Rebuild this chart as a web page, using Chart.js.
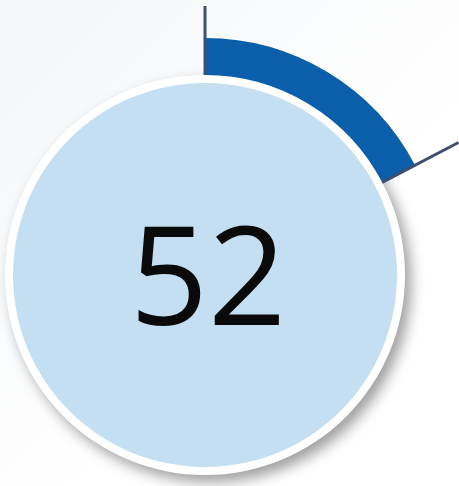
<!DOCTYPE html>
<html>
<head>
<meta charset="utf-8">
<script src="https://cdn.jsdelivr.net/npm/chart.js@4"></script>
<style>
  html, body { margin: 0; padding: 0; width: 459px; height: 486px; overflow: hidden; }
  body { position: relative; background: linear-gradient(135deg, #f3f5f8 0%, #fafbfc 35%, #ffffff 60%, #ffffff 100%); }
  #c { position: absolute; left: -75px; top: -5px; }
</style>
</head>
<body>
<canvas id="c" width="560" height="560"></canvas>
<script>
// Data
const categories = ['Value', 'Remaining'];
const values = [52, 248];          // 52 out of a total of 300
const centerLabel = ['52'];

const discPlugin = {
  id: 'disc',
  beforeDatasetsDraw(chart) {
    const arc = chart.getDatasetMeta(0).data[0];
    const { x, y, innerRadius } = arc.getProps(['x', 'y', 'innerRadius'], true);
    const ctx = chart.ctx;
    ctx.save();
    ctx.shadowColor = 'rgba(0,0,0,0.38)';
    ctx.shadowBlur = 14;
    ctx.shadowOffsetX = 6;
    ctx.shadowOffsetY = 7;
    ctx.fillStyle = '#ffffff';
    ctx.beginPath();
    ctx.arc(x, y, innerRadius, 0, Math.PI * 2);
    ctx.fill();
    ctx.restore();
    ctx.save();
    ctx.fillStyle = '#c3dff1';
    ctx.beginPath();
    ctx.arc(x, y, innerRadius - 8, 0, Math.PI * 2);
    ctx.fill();
    ctx.restore();
  },
  afterDatasetsDraw(chart) {
    const arc = chart.getDatasetMeta(0).data[0];
    const { x, y, innerRadius, startAngle, endAngle } =
      arc.getProps(['x', 'y', 'innerRadius', 'startAngle', 'endAngle'], true);
    const ctx = chart.ctx;
    ctx.save();
    ctx.strokeStyle = '#3e5070';
    ctx.lineWidth = 3;
    const seg = (a, r2) => {
      ctx.beginPath();
      ctx.moveTo(x + Math.cos(a) * innerRadius, y + Math.sin(a) * innerRadius);
      ctx.lineTo(x + Math.cos(a) * r2, y + Math.sin(a) * r2);
      ctx.stroke();
    };
    seg(startAngle, 269);
    seg(endAngle, 286);
    ctx.restore();

    ctx.save();
    ctx.fillStyle = '#0a0a0a';
    ctx.font = '137px "Open Sans"';
    ctx.textAlign = 'center';
    ctx.textBaseline = 'alphabetic';
    ctx.fillText(centerLabel[0], x + 3, y + 50);
    ctx.restore();
  }
};

function make() {
  new Chart(document.getElementById('c'), {
    type: 'doughnut',
    data: {
      labels: categories,
      datasets: [{
        data: values,
        backgroundColor: ['#0b5faa', 'rgba(0,0,0,0)'],
        borderWidth: 0
      }]
    },
    options: {
      responsive: false,
      animation: false,
      devicePixelRatio: 1,
      radius: 237,
      cutout: (200 / 237 * 100) + '%',
      rotation: 0,
      layout: { padding: 0 },
      plugins: { legend: { display: false }, tooltip: { enabled: false } },
      events: []
    },
    plugins: [discPlugin]
  });
}
if (document.fonts && document.fonts.load) {
  document.fonts.load('137px "Open Sans"').then(make, make);
} else { make(); }
</script>
</body>
</html>
